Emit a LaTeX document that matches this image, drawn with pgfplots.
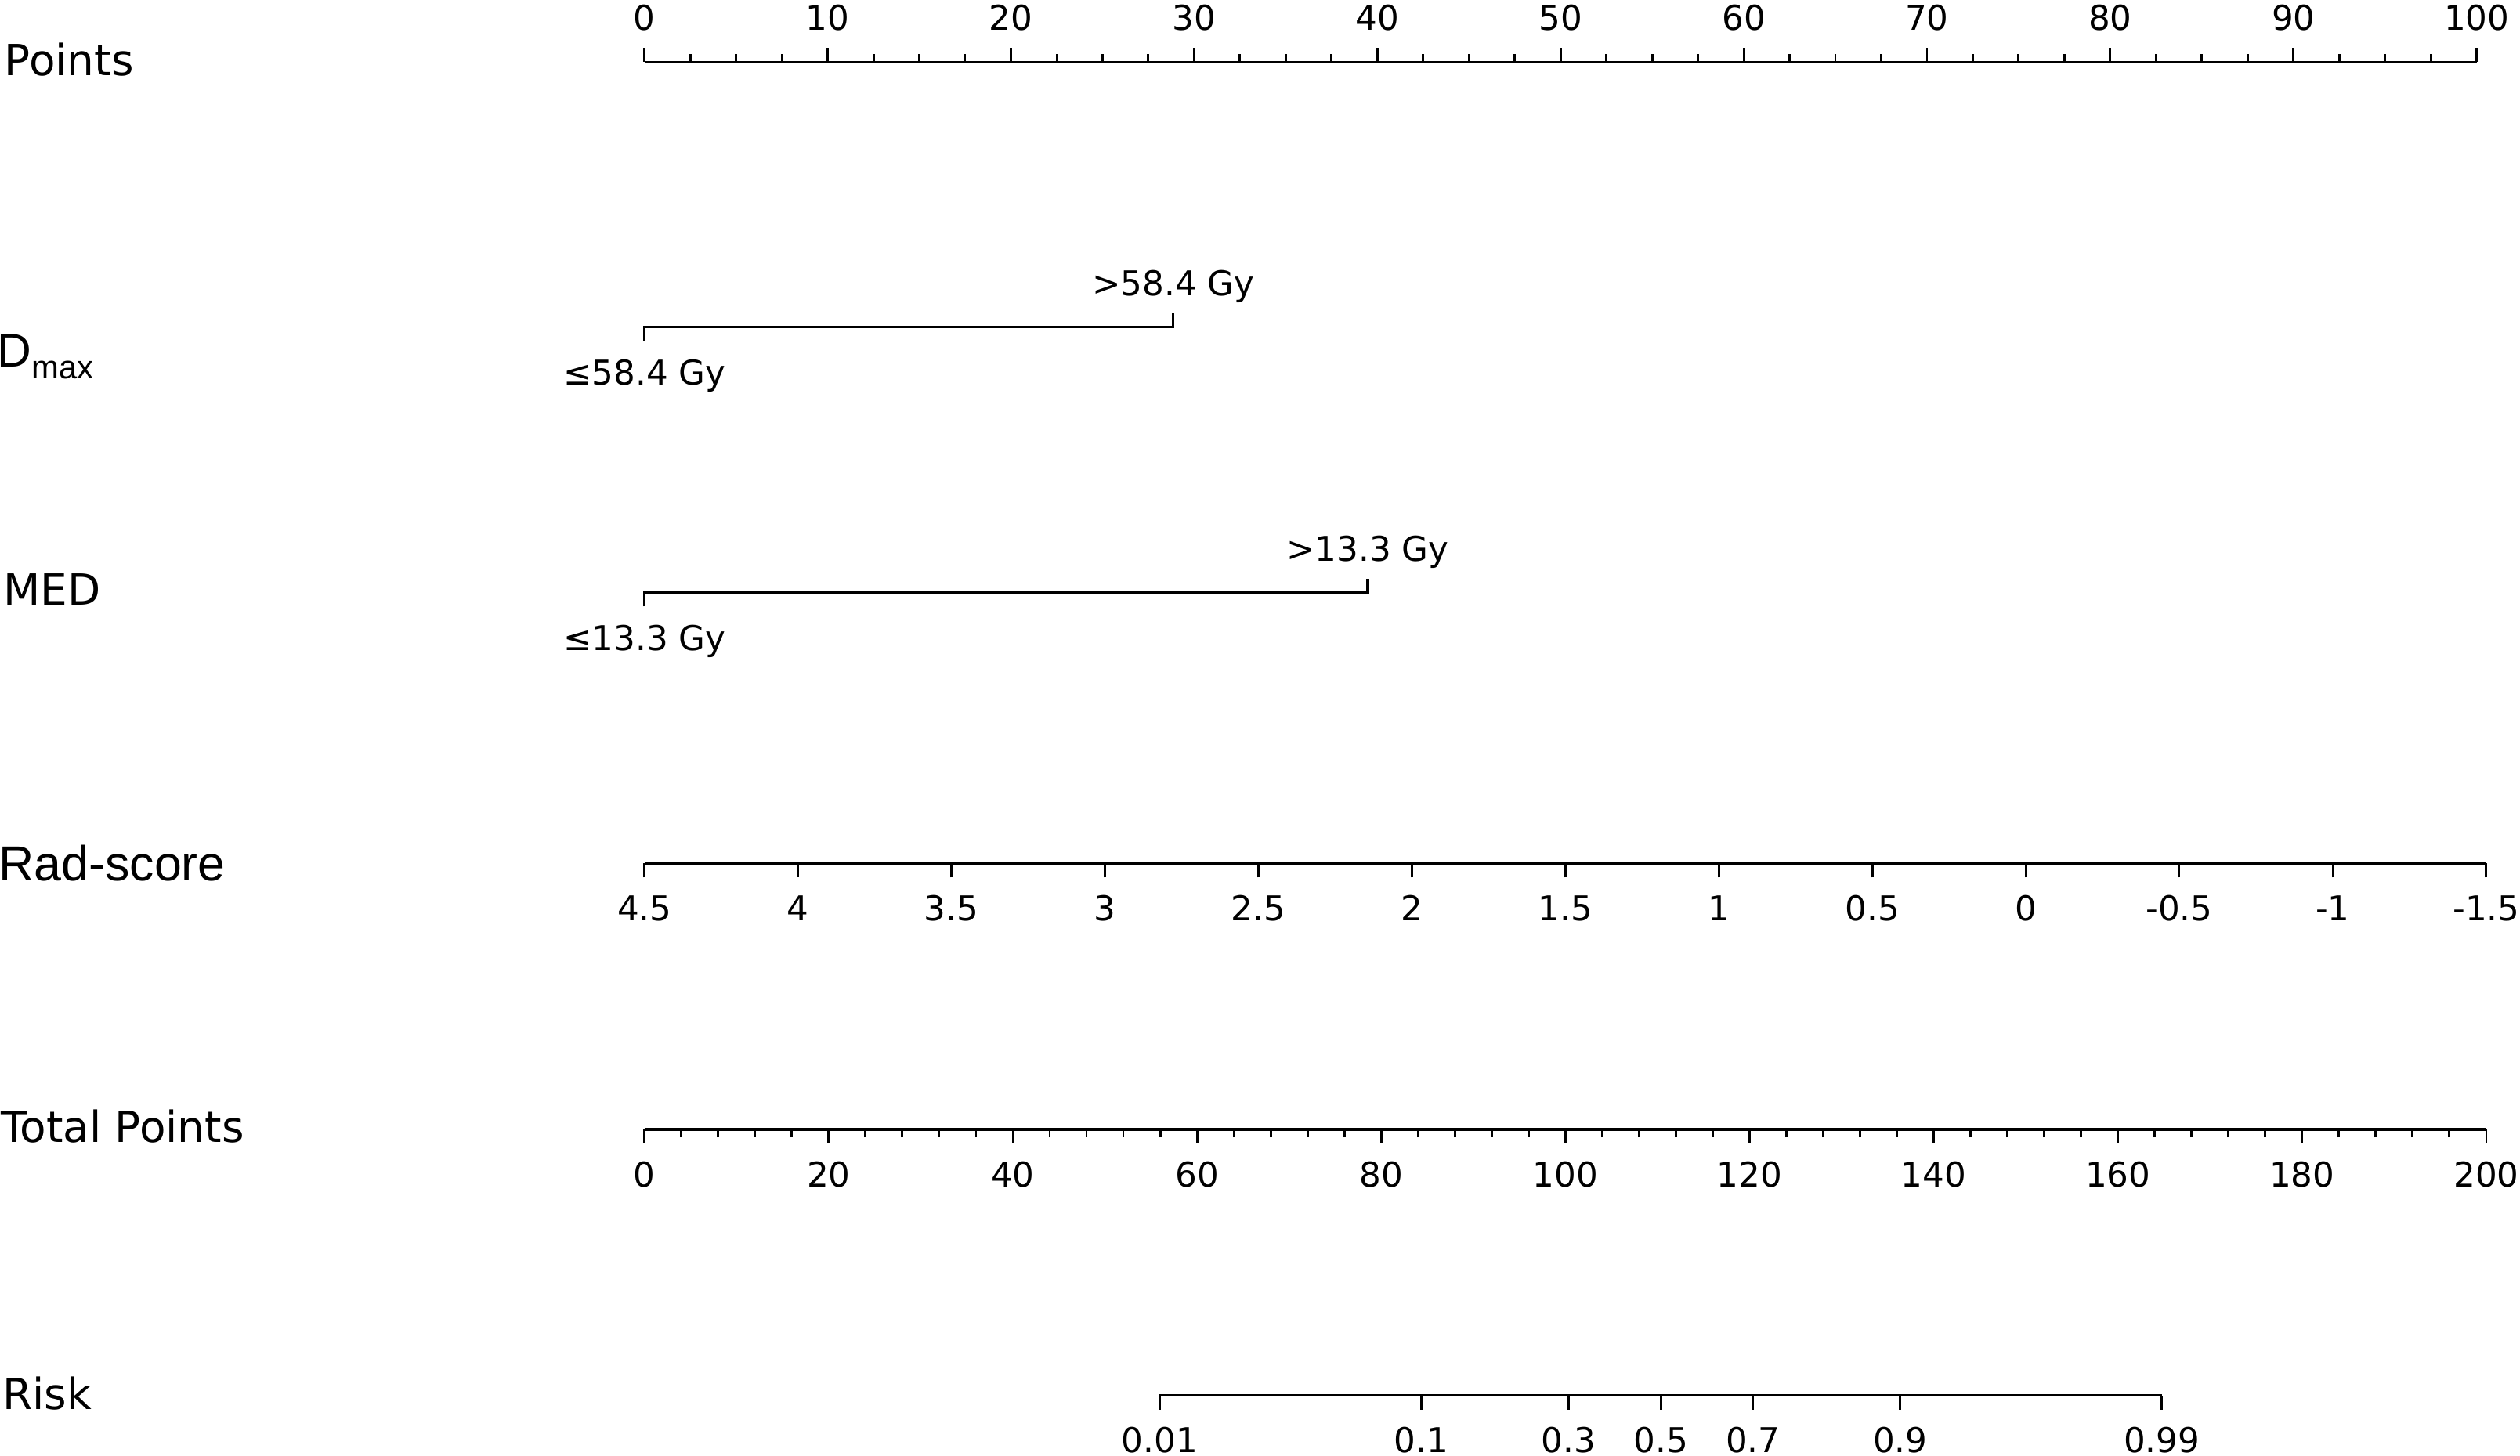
\documentclass[border=0pt]{standalone}
\usepackage{fontspec}
\setmainfont{DejaVu Sans}
\newfontfamily\lib{Liberation Sans}
\usepackage{pgfplots}
\pgfplotsset{compat=1.18}
\newcommand\tfont{\fontsize{6.05}{7}\selectfont}
\newcommand\lfont{\fontsize{7.6}{9}\selectfont}
\pgfplotsset{
  nomo/.style={scale only axis, height=1cm, axis y line=none, ymin=0, ymax=1,
    tick align=outside, major tick length=0.088cm, minor tick length=0.05cm,
    axis line style={line width=0.45pt, black},
    every tick/.style={black, line width=0.4pt},
    xticklabel style={font=\tfont, inner sep=0pt, anchor=base},
    clip=false},
  lowlab/.style={xticklabel style={yshift=-0.269cm}},
  uplab/.style={xticklabel style={yshift=0.110cm}},
}
\begin{document}
\begin{tikzpicture}
\useasboundingbox (0,0) rectangle (15.68cm,-9.06cm);

% Points scale
\begin{axis}[nomo, uplab, axis x line*=top, at={(4.01cm,-0.387cm)}, anchor=north west,
  width=11.40cm, xmin=0, xmax=100,
  xtick={0,10,20,30,40,50,60,70,80,90,100},
  xticklabels={0,10,20,30,40,50,60,70,80,90,100},
  minor x tick num=3]
\addplot[draw=none] coordinates {(0,0.5) (100,0.5)};
\end{axis}

% Categorical variables (on the Points scale)
\begin{axis}[scale only axis, width=11.40cm, height=9.06cm, at={(4.01cm,0cm)}, anchor=north west,
  xmin=0, xmax=100, ymin=0, ymax=906, y dir=reverse, axis lines=none, clip=false]
\addplot[black, line width=0.45pt] coordinates {(0,212.2) (0,203.6) (28.86,203.6) (28.86,195)};
\addplot[black, line width=0.45pt] coordinates {(0,377.4) (0,368.8) (39.47,368.8) (39.47,360.2)};
\node[font=\tfont, inner sep=0pt, anchor=base, yshift=0.198cm] at (axis cs:28.86,203.6) {>58.4 Gy};
\node[font=\tfont, inner sep=0pt, anchor=base, yshift=-0.36cm] at (axis cs:0,203.6) {≤58.4 Gy};
\node[font=\tfont, inner sep=0pt, anchor=base, yshift=0.198cm] at (axis cs:39.47,368.8) {>13.3 Gy};
\node[font=\tfont, inner sep=0pt, anchor=base, yshift=-0.36cm] at (axis cs:0,368.8) {≤13.3 Gy};
\end{axis}

% Rad-score
\begin{axis}[nomo, lowlab, axis x line*=bottom, at={(4.01cm,-5.373cm)}, anchor=south west,
  width=11.46cm, xmin=-1.5, xmax=4.5, x dir=reverse,
  xtick={-1.5,-1,-0.5,0,0.5,1,1.5,2,2.5,3,3.5,4,4.5},
  xticklabels={-1.5,-1,-0.5,0,0.5,1,1.5,2,2.5,3,3.5,4,4.5}]
\addplot[draw=none] coordinates {(0,0.5) (1,0.5)};
\end{axis}

% Total Points
\begin{axis}[nomo, lowlab, axis x line*=bottom, at={(4.01cm,-7.028cm)}, anchor=south west,
  width=11.46cm, xmin=0, xmax=200,
  xtick={0,20,40,60,80,100,120,140,160,180,200},
  xticklabels={0,20,40,60,80,100,120,140,160,180,200},
  minor x tick num=4]
\addplot[draw=none] coordinates {(0,0.5) (1,0.5)};
\end{axis}

% Risk (positions in total points)
\begin{axis}[nomo, lowlab, axis x line*=bottom, at={(7.216cm,-8.684cm)}, anchor=south west,
  width=6.235cm, xmin=55.9, xmax=164.7,
  xtick={55.9,84.3,100.3,110.3,120.3,136.3,164.7},
  xticklabels={0.01,0.1,0.3,0.5,0.7,0.9,0.99}]
\addplot[draw=none] coordinates {(60,0.5) (100,0.5)};
\end{axis}

% Row labels
\node[anchor=base west, inner sep=0pt, font=\lfont] at (0.022cm,-0.471cm) {Points};
\node[anchor=base west, inner sep=0pt] at (-0.024cm,-2.283cm) {\lib\fontsize{8.4}{10}\selectfont D\raisebox{-0.073cm}{\fontsize{5.8}{7}\selectfont max}};
\node[anchor=base west, inner sep=0pt, font=\lfont] at (0.015cm,-3.766cm) {MED};
\node[anchor=base west, inner sep=0pt] at (-0.015cm,-5.483cm) {\lib\fontsize{8.7}{10}\selectfont Rad-score};
\node[anchor=base west, inner sep=0pt, font=\lfont] at (0.0cm,-7.108cm) {Total Points};
\node[anchor=base west, inner sep=0pt, font=\lfont] at (0.01cm,-8.769cm) {Risk};
\end{tikzpicture}
\end{document}
